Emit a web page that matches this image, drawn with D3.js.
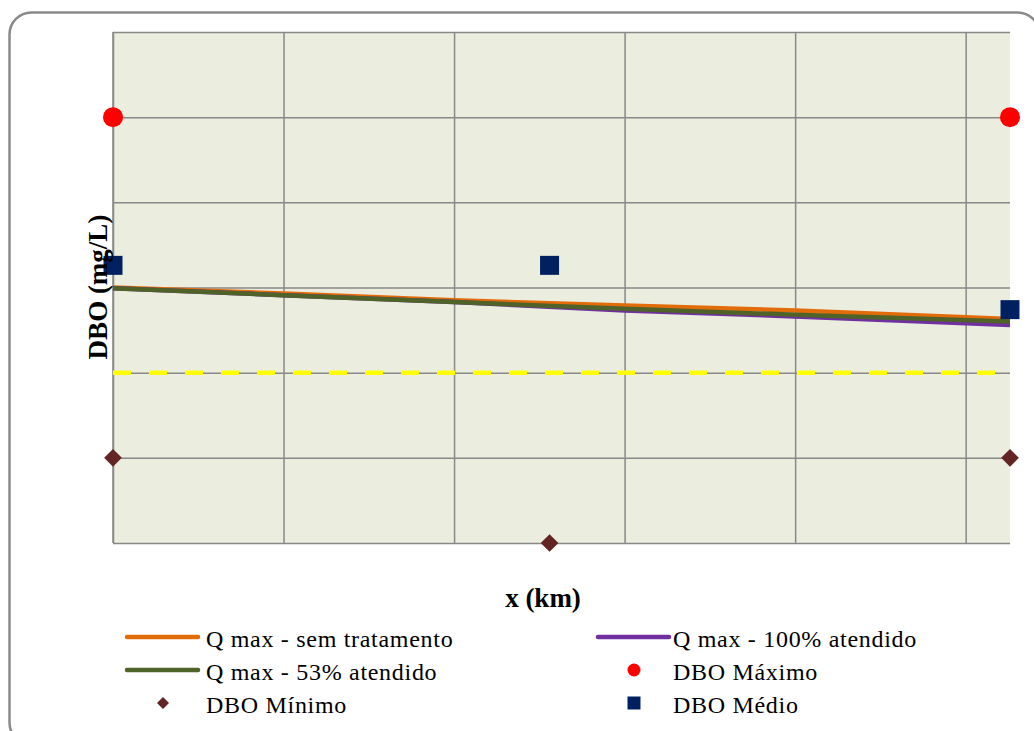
<!DOCTYPE html>
<html>
<head>
<meta charset="utf-8">
<script src="https://cdn.jsdelivr.net/npm/d3@7"></script>
<style>
  html, body { margin: 0; padding: 0; background: #fff; }
  svg { display: block; }
</style>
</head>
<body>
<svg id="chart" width="1034" height="731"></svg>
<script>
// ---- data ----
const xTicks = [0, 1, 2, 3, 4, 5];
const yTicks = [0, 1, 2, 3, 4, 5, 6];
const xMax = 5.26;

const lineX = [0, 1, 2, 3, 4, 5.26];
const semTratamento = [3.00, 2.93, 2.85, 2.79, 2.73, 2.63];
const atendido100   = [2.99, 2.91, 2.83, 2.73, 2.66, 2.56];
const atendido53    = [2.99, 2.91, 2.83, 2.75, 2.68, 2.60];

const pointX   = [0, 2.56, 5.26];
const dboMaximo = [5, null, 5];
const dboMedio  = [3.26, 3.26, 2.74];
const dboMinimo = [1, 0, 1];

const limiteDBO = 2;

const seriesNames = ["Q max - sem tratamento", "Q max - 100% atendido", "Q max - 53% atendido",
                     "DBO Máximo", "DBO Mínimo", "DBO Médio"];

const FONT = "'Liberation Serif', 'Times New Roman', 'DejaVu Serif', serif";

// ---- layout ----
const svg = d3.select("#chart");
const plot = { left: 113, top: 32, right: 1010, bottom: 543 };
const x = d3.scaleLinear().domain([0, xMax]).range([plot.left, plot.right]);
const y = d3.scaleLinear().domain([0, 6]).range([plot.bottom, plot.top]);

const colors = {
  sem: "#E36C0A", c100: "#7030A0", c53: "#4F6228",
  max: "#FF0000", min: "#632523", med: "#002060",
  grid: "#888888", bg: "#EBEEDF"
};

// outer rounded border
svg.append("rect")
  .attr("x", 9.5).attr("y", 12.5).attr("width", 1030).attr("height", 732)
  .attr("rx", 22).attr("ry", 22)
  .attr("fill", "#fff").attr("stroke", "#8a8a8a").attr("stroke-width", 2.5);

// plot background
svg.append("rect")
  .attr("x", plot.left).attr("y", plot.top)
  .attr("width", plot.right - plot.left).attr("height", plot.bottom - plot.top)
  .attr("fill", colors.bg);

// gridlines via axes
const gy = svg.append("g").attr("transform", `translate(${plot.left},0)`)
  .call(d3.axisLeft(y).tickValues(yTicks).tickSize(-(plot.right - plot.left)).tickFormat(""));
const gx = svg.append("g").attr("transform", `translate(0,${plot.bottom})`)
  .call(d3.axisBottom(x).tickValues(xTicks).tickSize(-(plot.bottom - plot.top)).tickFormat(""));
[gx, gy].forEach(g => {
  g.select(".domain").remove();
  g.selectAll(".tick line").attr("stroke", colors.grid).attr("stroke-width", 1.5);
});
svg.append("line").attr("x1", plot.left).attr("x2", plot.left)
  .attr("y1", plot.top).attr("y2", plot.bottom)
  .attr("stroke", colors.grid).attr("stroke-width", 1.5);

// limit line (yellow dashed)
svg.append("line")
  .attr("x1", x(0)).attr("x2", x(xMax))
  .attr("y1", y(limiteDBO)).attr("y2", y(limiteDBO))
  .attr("stroke", "#FFFF00").attr("stroke-width", 4.5)
  .attr("stroke-dasharray", "18,18");

// lines
const lineGen = d3.line().x(d => x(d[0])).y(d => y(d[1]));
const lines = [
  { vals: semTratamento, color: colors.sem },
  { vals: atendido100, color: colors.c100 },
  { vals: atendido53, color: colors.c53 }
];
lines.forEach(s => {
  svg.append("path")
    .datum(lineX.map((xv, i) => [xv, s.vals[i]]))
    .attr("d", lineGen)
    .attr("fill", "none").attr("stroke", s.color)
    .attr("stroke-width", 4.5).attr("stroke-linejoin", "round");
});

// markers
const symCircle = d3.symbol().type(d3.symbolCircle).size(Math.PI * 10 * 10);
const symSquare = d3.symbol().type(d3.symbolSquare).size(19 * 19);
const symDiamond = d3.symbol().type(d3.symbolSquare).size(12.5 * 12.5);

function drawPoints(vals, sym, color, rot) {
  svg.append("g").selectAll("path")
    .data(pointX.map((xv, i) => [xv, vals[i]]).filter(d => d[1] != null))
    .join("path")
    .attr("d", sym)
    .attr("transform", d => `translate(${x(d[0])},${y(d[1])}) rotate(${rot || 0})`)
    .attr("fill", color);
}
drawPoints(dboMaximo, symCircle, colors.max);
drawPoints(dboMinimo, symDiamond, colors.min, 45);
drawPoints(dboMedio, symSquare, colors.med);

// axis titles
svg.append("text")
  .attr("transform", `translate(107,287) rotate(-90)`)
  .attr("text-anchor", "middle")
  .style("font-family", FONT)
  .attr("font-size", 27).attr("font-weight", "bold")
  .text("DBO (mg/L)");
svg.append("text")
  .attr("x", 543).attr("y", 607)
  .attr("text-anchor", "middle")
  .style("font-family", FONT)
  .attr("font-size", 27).attr("font-weight", "bold")
  .text("x (km)");

// legend
const legendItems = [
  { name: seriesNames[0], type: "line", color: colors.sem, col: 0, row: 0 },
  { name: seriesNames[1], type: "line", color: colors.c100, col: 1, row: 0 },
  { name: seriesNames[2], type: "line", color: colors.c53, col: 0, row: 1 },
  { name: seriesNames[3], type: "circle", color: colors.max, col: 1, row: 1 },
  { name: seriesNames[4], type: "diamond", color: colors.min, col: 0, row: 2 },
  { name: seriesNames[5], type: "square", color: colors.med, col: 1, row: 2 }
];
const colX = [127, 598];
const textX = [206, 673];
const rowY = [637, 670, 703];
const legSym = {
  circle: d3.symbol().type(d3.symbolCircle).size(Math.PI * 6.5 * 6.5),
  square: d3.symbol().type(d3.symbolSquare).size(13 * 13),
  diamond: d3.symbol().type(d3.symbolSquare).size(8.5 * 8.5)
};
legendItems.forEach(it => {
  const cy = rowY[it.row];
  if (it.type === "line") {
    svg.append("line")
      .attr("x1", colX[it.col]).attr("x2", colX[it.col] + 71)
      .attr("y1", cy).attr("y2", cy)
      .attr("stroke", it.color).attr("stroke-width", 4.5).attr("stroke-linecap", "round");
  } else {
    svg.append("path").attr("d", legSym[it.type]())
      .attr("transform", `translate(${colX[it.col] + 36},${cy}) rotate(${it.type === "diamond" ? 45 : 0})`)
      .attr("fill", it.color);
  }
  svg.append("text")
    .attr("x", textX[it.col]).attr("y", cy + 10)
    .style("font-family", FONT)
    .style("letter-spacing", "0.7px")
    .attr("font-size", 24)
    .text(it.name);
});
</script>
</body>
</html>
